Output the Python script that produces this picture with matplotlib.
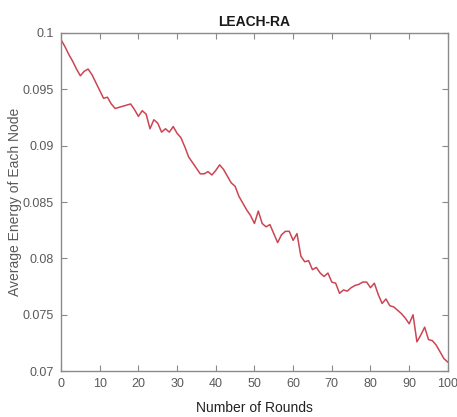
import numpy as np
import matplotlib
matplotlib.use("Agg")
import matplotlib.pyplot as plt

# average residual energy per round
rounds = list(range(0, 101))
energy = [
    0.0994, 0.0988, 0.0981, 0.0975, 0.0968, 0.0962, 0.0966, 0.0968, 0.0963, 0.0956,
    0.0949, 0.0942, 0.0943, 0.0937, 0.0933, 0.0934, 0.0935, 0.0936, 0.0937, 0.0932,
    0.0926, 0.0931, 0.0928, 0.0915, 0.0923, 0.0920, 0.0912, 0.0915, 0.0912, 0.0917,
    0.0911, 0.0907, 0.0899, 0.0890, 0.0885, 0.0880, 0.0875, 0.0875, 0.0877, 0.0874,
    0.0878, 0.0883, 0.0879, 0.0873, 0.0867, 0.0864, 0.0855, 0.0849, 0.0843, 0.0838,
    0.0831, 0.0842, 0.0831, 0.0828, 0.0830, 0.0822, 0.0814, 0.0821, 0.0824, 0.0824,
    0.0816, 0.0822, 0.0802, 0.0797, 0.0798, 0.0790, 0.0792, 0.0787, 0.0784, 0.0787,
    0.0779, 0.0778, 0.0769, 0.0772, 0.0771, 0.0774, 0.0776, 0.0777, 0.0779, 0.0779,
    0.0774, 0.0778, 0.0768, 0.0760, 0.0764, 0.0758, 0.0757, 0.0754, 0.0751, 0.0747,
    0.0742, 0.0750, 0.0726, 0.0732, 0.0739, 0.0728, 0.0727, 0.0723, 0.0717, 0.0711,
    0.0708,
]
xticks = list(range(0, 101, 10))
yticks = [0.07, 0.075, 0.08, 0.085, 0.09, 0.095, 0.1]
ytick_labels = ["0.07", "0.075", "0.08", "0.085", "0.09", "0.095", "0.1"]

plt.rcParams["font.family"] = ["Liberation Sans", "DejaVu Sans"]

fig = plt.figure(figsize=(4.57, 4.17), dpi=100)
ax = fig.add_axes([0.1335, 0.110, 0.8465, 0.811])

ax.plot(rounds, energy, color="#cc4552", linewidth=1.1)

ax.set_xlim(0, 100)
ax.set_ylim(0.07, 0.1)
ax.set_xticks(xticks)
ax.set_yticks(yticks)
ax.set_yticklabels(ytick_labels)

grey = "#5a5a5a"
for s in ax.spines.values():
    s.set_color("#8a8a8a")
    s.set_linewidth(1.0)
ax.tick_params(direction="in", top=True, right=True, length=4, width=0.8,
               colors="#8a8a8a", labelcolor=grey, labelsize=9, pad=5)

ax.set_title("LEACH-RA", fontsize=10, fontweight="bold", color="#1a1a1a", pad=5)
ax.set_xlabel("Number of Rounds", fontsize=10, color="#222222", labelpad=8)
ax.set_ylabel("Average Energy of Each Node", fontsize=10, color=grey)
ax.yaxis.set_label_coords(-0.10, 0.5)

fig.savefig("out.png", dpi=100)
